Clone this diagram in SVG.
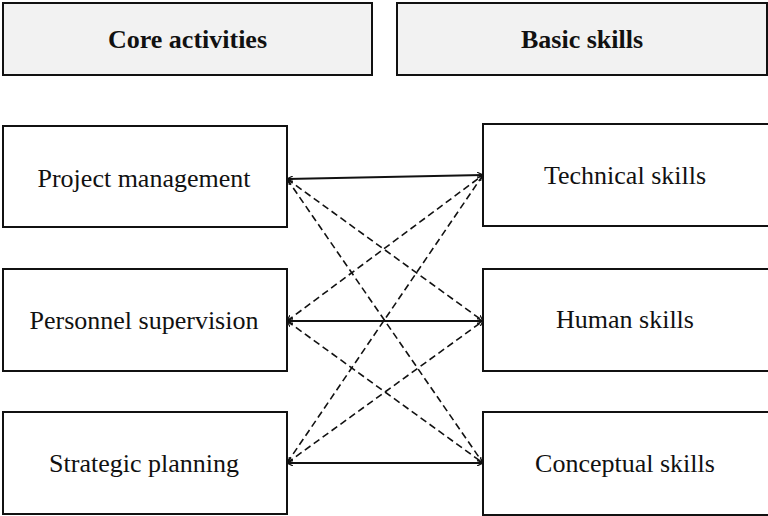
<svg xmlns="http://www.w3.org/2000/svg" width="768" height="516" viewBox="0 0 768 516">
  <style>
    .hdr { fill: #f2f2f2; stroke: #111; stroke-width: 2; }
    .box { fill: #fff; stroke: #111; stroke-width: 2; }
    .ht { font-family: "Liberation Serif", "Times New Roman", serif; font-weight: bold; font-size: 26px; fill: #111; text-anchor: middle; }
    .nt { font-family: "Liberation Serif", "Times New Roman", serif; font-size: 26px; fill: #111; text-anchor: middle; }
    .solid { stroke: #111; stroke-width: 2; fill: none; }
    .dash { stroke: #111; stroke-width: 1.6; fill: none; stroke-dasharray: 7 4; }
  </style>
  <defs>
    <marker id="ah" viewBox="0 0 10 10" refX="10" refY="5" markerWidth="6" markerHeight="6" markerUnits="userSpaceOnUse" orient="auto-start-reverse">
      <path d="M0,0 L10,5 L0,10" fill="none" stroke="#111" stroke-width="2"/>
    </marker>
  </defs>
  <rect width="768" height="516" fill="#fff"/>
  <g id="header-core"><rect class="hdr" x="3" y="3" width="369" height="72"/><text class="ht" x="187.5" y="48">Core activities</text></g>
  <g id="header-basic"><rect class="hdr" x="397" y="3" width="370" height="72"/><text class="ht" x="582" y="48">Basic skills</text></g>

  <g id="project-management"><rect class="box" x="3" y="126" width="284" height="101"/><text class="nt" x="144" y="187">Project management</text></g>
  <g id="personnel-supervision"><rect class="box" x="3" y="269" width="284" height="102"/><text class="nt" x="144" y="329">Personnel supervision</text></g>
  <g id="strategic-planning"><rect class="box" x="3" y="412" width="284" height="102"/><text class="nt" x="144" y="472">Strategic planning</text></g>

  <g id="technical-skills"><rect class="box" x="483" y="124" width="290" height="102"/><text class="nt" x="625" y="184">Technical skills</text></g>
  <g id="human-skills"><rect class="box" x="483" y="269" width="290" height="102"/><text class="nt" x="625" y="328">Human skills</text></g>
  <g id="conceptual-skills"><rect class="box" x="483" y="412" width="290" height="103"/><text class="nt" x="625" y="472">Conceptual skills</text></g>

  <g id="connectors">
    <line class="solid" x1="287" y1="179" x2="483" y2="175" marker-start="url(#ah)" marker-end="url(#ah)"/>
    <line class="solid" x1="287" y1="321" x2="483" y2="321" marker-start="url(#ah)" marker-end="url(#ah)"/>
    <line class="solid" x1="287" y1="463" x2="483" y2="463" marker-start="url(#ah)" marker-end="url(#ah)"/>
    <line class="dash" x1="287" y1="179" x2="483" y2="321" marker-start="url(#ah)" marker-end="url(#ah)"/>
    <line class="dash" x1="287" y1="179" x2="483" y2="463" marker-start="url(#ah)" marker-end="url(#ah)"/>
    <line class="dash" x1="287" y1="321" x2="483" y2="175" marker-start="url(#ah)" marker-end="url(#ah)"/>
    <line class="dash" x1="287" y1="321" x2="483" y2="463" marker-start="url(#ah)" marker-end="url(#ah)"/>
    <line class="dash" x1="287" y1="463" x2="483" y2="175" marker-start="url(#ah)" marker-end="url(#ah)"/>
    <line class="dash" x1="287" y1="463" x2="483" y2="321" marker-start="url(#ah)" marker-end="url(#ah)"/>
  </g>
</svg>
